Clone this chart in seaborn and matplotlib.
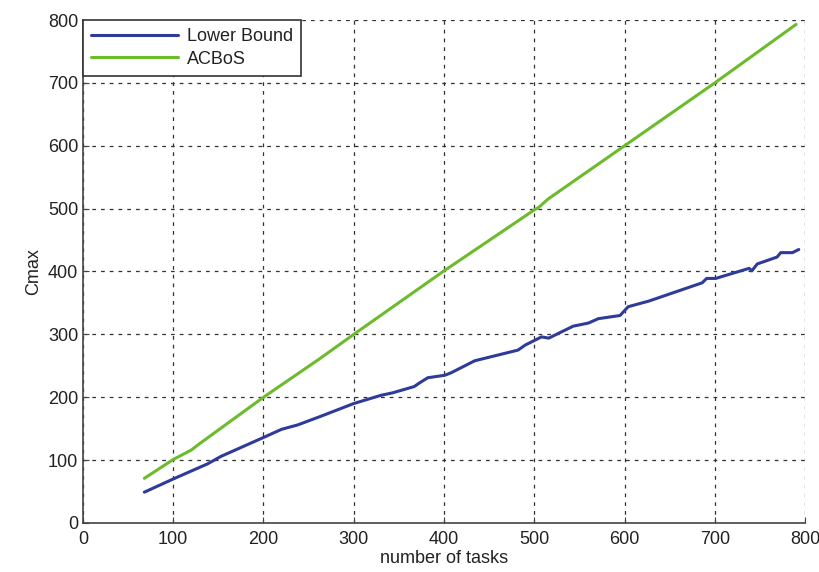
import pandas as pd
import matplotlib.pyplot as plt
import seaborn as sns

sns.set_style("ticks")
plt.rcParams['font.family'] = ['Liberation Sans', 'DejaVu Sans']

# values
lb_tasks = [68, 100, 138, 153, 200, 220, 238, 264, 300, 330, 343, 367, 372, 382,
            401, 408, 434, 482, 490, 508, 516, 543, 560, 571, 595, 604, 627,
            686, 691, 701, 738, 741, 747, 769, 773, 786, 793]
lb_cmax = [49, 70, 94, 106, 136, 149, 156, 170, 190, 203, 207, 217, 222, 231,
           235, 239, 258, 275, 283, 296, 294, 313, 318, 325, 330, 344, 353,
           382, 389, 389, 405, 401, 412, 423, 430, 430, 435]

ac_tasks = [68, 100, 120, 130, 200, 261, 300, 400, 500, 505, 515,
            600, 700, 790]
ac_cmax = [71, 101, 116, 127, 200, 260, 300, 401, 498, 502, 515,
           600, 700, 793]

df_lb = pd.DataFrame({'tasks': lb_tasks, 'cmax': lb_cmax, 'label': 'Lower Bound'})
df_ac = pd.DataFrame({'tasks': ac_tasks, 'cmax': ac_cmax, 'label': 'ACBoS'})
df = pd.concat([df_lb, df_ac], ignore_index=True)

fig = plt.figure(figsize=(8.19, 5.72), dpi=100)
ax = fig.add_axes([0.1013, 0.0857, 0.8817, 0.8793])

sns.lineplot(data=df, x='tasks', y='cmax', hue='label', sort=False,
             palette={'Lower Bound': '#2e3b98', 'ACBoS': '#6cbb2c'},
             linewidth=2.2, ax=ax)

ax.set_xlim(0, 800)
ax.set_ylim(0, 800)
ax.set_xticks(range(0, 801, 100))
ax.set_yticks(range(0, 801, 100))
ax.grid(True, color='#333333', linestyle=(0, (3, 4)), linewidth=0.9)
ax.tick_params(direction='in', labelsize=13, length=4, color='#444444',
               labelcolor='#222222')
ax.tick_params(axis='x', pad=6)
for side in ['top', 'right']:
    ax.spines[side].set_visible(False)
for side in ['left', 'bottom']:
    ax.spines[side].set_color('#444444')
    ax.spines[side].set_linewidth(1.2)
ax.set_axisbelow(True)

ax.set_xlabel('number of tasks', fontsize=13, labelpad=1, color='#222222')
ax.set_ylabel('Cmax', fontsize=13, labelpad=4, color='#222222')

leg = ax.legend(loc='upper left', fontsize=13, fancybox=False, framealpha=1,
                edgecolor='#333333', borderaxespad=0, handlelength=4.8,
                handletextpad=0.5, borderpad=0.45, labelspacing=0.3)
leg.get_frame().set_linewidth(1.2)
for t in leg.get_texts():
    t.set_color('#222222')

fig.savefig('out.png', dpi=100)
